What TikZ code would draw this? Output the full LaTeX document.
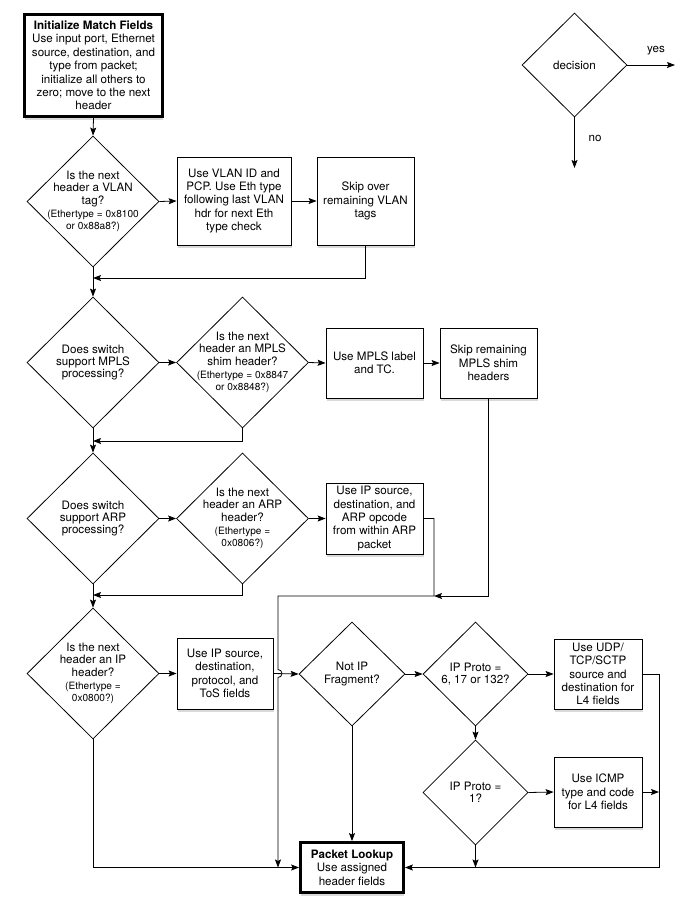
\documentclass[tikz,border=0pt]{standalone}
\usepackage{fontspec}
\setmainfont{TeX Gyre Heros}
\usetikzlibrary{shapes.geometric,shadows,arrows.meta}

\newcommand{\ethsize}{\fontsize{10.1}{10.9}\selectfont}

\begin{document}
\begin{tikzpicture}[
    x=1pt, y=-1pt,
    every node/.style={font=\fontsize{11.6}{13.4}\selectfont, align=center, inner sep=1pt},
    box/.style={rectangle, draw, line width=0.8pt, fill=white,
        drop shadow={shadow xshift=0.8pt, shadow yshift=-3pt, opacity=0.3}},
    mainbox/.style={box, line width=2.8pt},
    decision/.style={diamond, draw, line width=0.8pt, fill=white, inner sep=0pt},
    qtext/.style={inner sep=0pt, font=\fontsize{11.6}{12.4}\selectfont},
    flow/.style={draw, line width=0.8pt, -{Stealth[length=8pt,width=6pt,inset=1.5pt]}},
    link/.style={draw, line width=0.8pt}
]
% Diagramma di flusso: estrazione dei campi di match dall'header del pacchetto.
\useasboundingbox (0,0) rectangle (700,908);

% legenda
\node[decision, minimum width=105, minimum height=104] (legend) at (574.5,65) {};
\node[qtext] (legend-q) at (legend) {decision};
\coordinate (legend-yes) at (675,65);
\coordinate (legend-no) at (574.5,168);
\draw[flow] (legend.east) -- (legend-yes);
\draw[flow] (legend.south) -- (legend-no);
\node (yes) at (656,51) {yes};
\node (no) at (595,138) {no};

% Ethernet e VLAN
\node[mainbox, minimum width=138, minimum height=102] (init) at (93.5,65.5)
    {\textbf{Initialize Match Fields}\\Use input port, Ethernet\\source, destination, and\\type from packet;\\initialize all others to\\zero; move to the next\\header};
\node[decision, minimum width=132, minimum height=131] (vlan) at (93,201.5) {};
\node[qtext] (vlan-q) at (vlan)
    {Is the next\\header a VLAN\\tag?\\[1pt]\ethsize (Ethertype = 0x8100\\\ethsize or 0x88a8?)};
\node[box, minimum width=114, minimum height=88] (vlanuse) at (234,201)
    {Use VLAN ID and\\PCP. Use Eth type\\following last VLAN\\hdr for next Eth\\type check};
\node[box, minimum width=97, minimum height=88] (vlanskip) at (365.5,201)
    {Skip over\\remaining VLAN\\tags};

% MPLS
\node[decision, minimum width=132, minimum height=131] (mplssup) at (93,362.5) {};
\node[qtext] (mplssup-q) at (mplssup) {Does switch\\support MPLS\\processing?};
\node[decision, minimum width=132, minimum height=131] (mplshdr) at (242.5,362.5) {};
\node[qtext] (mplshdr-q) at (mplshdr)
    {Is the next\\header an MPLS\\shim header?\\[1pt]\ethsize (Ethertype = 0x8847\\\ethsize or 0x8848?)};
\node[box, minimum width=97, minimum height=70] (mplsuse) at (374.5,363)
    {Use MPLS label\\and TC.};
\node[box, minimum width=97, minimum height=70] (mplsskip) at (488.5,363)
    {Skip remaining\\MPLS shim\\headers};

% ARP
\node[decision, minimum width=132, minimum height=131] (arpsup) at (93,518.5) {};
\node[qtext] (arpsup-q) at (arpsup) {Does switch\\support ARP\\processing?};
\node[decision, minimum width=132, minimum height=131] (arphdr) at (242.5,518.5) {};
\node[qtext] (arphdr-q) at (arphdr)
    {Is the next\\header an ARP\\header?\\[1pt]\ethsize (Ethertype =\\\ethsize 0x0806?)};
\node[box, minimum width=97, minimum height=71] (arpuse) at (374.5,518.5)
    {Use IP source,\\destination, and\\ARP opcode\\from within ARP\\packet};

% IP e L4
\node[decision, minimum width=132, minimum height=131] (ip) at (93,673.5) {};
\node[qtext] (ip-q) at (ip)
    {Is the next\\header an IP\\header?\\[1pt]\ethsize (Ethertype =\\\ethsize 0x0800?)};
\node[box, minimum width=96, minimum height=71] (ipuse) at (225,673.5)
    {Use IP source,\\destination,\\protocol, and\\ToS fields};
\node[decision, minimum width=106, minimum height=104] (frag) at (352,674) {};
\node[qtext] (frag-q) at (frag) {Not IP\\Fragment?};
\node[decision, minimum width=105, minimum height=104] (proto) at (475.5,674) {};
\node[qtext] (proto-q) at (proto) {IP Proto =\\6, 17 or 132?};
\node[box, minimum width=88, minimum height=70] (l4) at (598,674)
    {Use UDP/\\TCP/SCTP\\source and\\destination for\\L4 fields};
\node[decision, minimum width=105, minimum height=105] (icmpq) at (475.5,792.5) {};
\node[qtext] (icmpq-q) at (icmpq) {IP Proto =\\1?};
\node[box, minimum width=88, minimum height=70] (icmp) at (598,792)
    {Use ICMP\\type and code\\for L4 fields};
\node[mainbox, minimum width=103, minimum height=50] (lookup) at (352,867.5)
    {\textbf{Packet Lookup}\\Use assigned\\header fields};

% punti di giunzione
\coordinate (vlan-join) at (93,278);
\coordinate (mpls-join) at (93,441);
\coordinate (arp-join) at (93,595);
\coordinate (skip-join) at (434,596);
\coordinate (bypass) at (278,596);
\coordinate (hop) at (278,669.5);
\coordinate (bypass-end) at (278,867.5);
\coordinate (l4-turn) at (659,674);
\coordinate (icmp-join) at (659,792);
\coordinate (proto1-end) at (475.5,867.5);

% connettori
\draw[flow] (init.south) -- (vlan.north);
\draw[flow] (vlan.east) -- (vlanuse.west);
\draw[flow] (vlanuse.east) -- (vlanskip.west);
\draw[flow] (vlanskip.south) |- (vlan-join);
\draw[flow] (vlan.south) -- (mplssup.north);

\draw[flow] (mplssup.east) -- (mplshdr.west);
\draw[flow] (mplshdr.east) -- (mplsuse.west);
\draw[flow] (mplsuse.east) -- (mplsskip.west);
\draw[flow] (mplshdr.south) |- (mpls-join);
\draw[flow] (mplssup.south) -- (arpsup.north);

\draw[flow] (arpsup.east) -- (arphdr.west);
\draw[flow] (arphdr.east) -- (arpuse.west);
\draw[flow] (arphdr.south) |- (arp-join);
\draw[flow] (arpsup.south) -- (ip.north);
\draw[flow] (mplsskip.south) |- (skip-join);
\draw[flow] (arpuse.east) -| (skip-join) -- (bypass) -- (hop)
    arc (-90:90:4) -- (bypass-end);

\draw[flow] (ip.east) -- (ipuse.west);
\draw[flow] (ipuse.east) -- (frag.west);
\draw[flow] (ip.south) |- (lookup.west);
\draw[flow] (frag.east) -- (proto.west);
\draw[flow] (frag.south) -- (lookup.north);
\draw[flow] (proto.east) -- (l4.west);
\draw[flow] (proto.south) -- (icmpq.north);
\draw[flow] (icmpq.east) -- (icmp.west);
\draw[flow] (icmpq.south) -- (proto1-end);
\draw[flow] (icmp.east) -- (icmp-join);
\draw[flow] (l4.east) -- (l4-turn) |- (lookup.east);
\end{tikzpicture}
\end{document}
